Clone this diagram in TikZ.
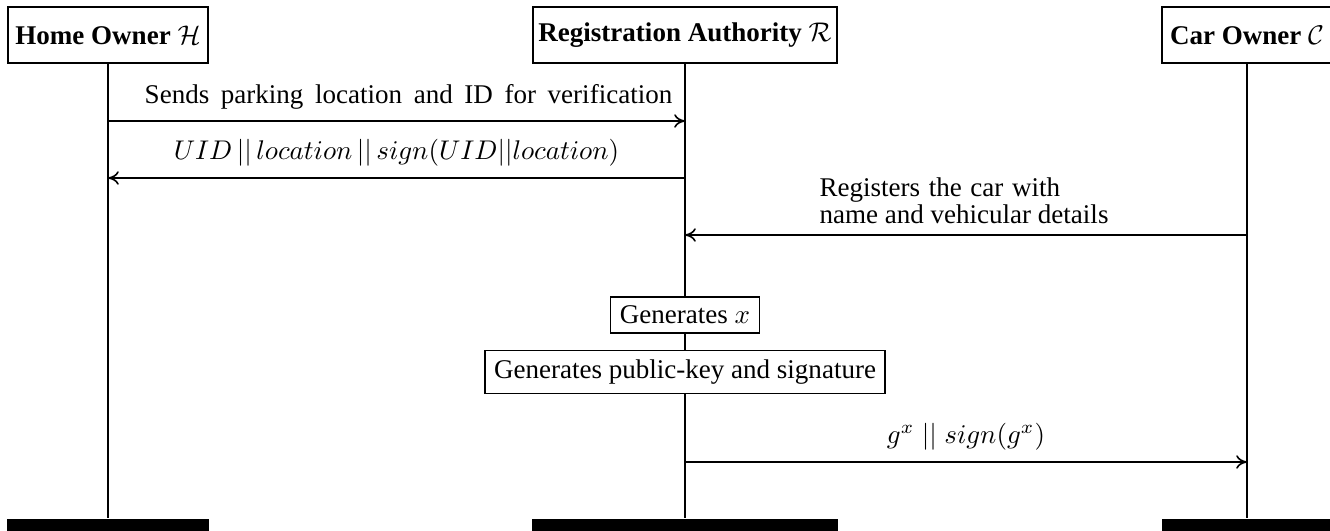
\documentclass[tikz,border=0pt]{standalone}
\usepackage{fontspec}
\setmainfont{Liberation Serif}
\usetikzlibrary{arrows.meta}
\begin{document}
\begin{tikzpicture}[x=0.37pt,y=-0.37pt,
  font=\fontsize{10}{12}\selectfont,
  actor/.style={draw, semithick, fill=white, minimum height=20.7pt, inner xsep=2pt, font=\fontsize{10}{12}\selectfont\bfseries},
  proc/.style={draw, semithick, fill=white, inner sep=3.4pt},
  life/.style={semithick},
  msg/.style={semithick, -{To[length=4pt,width=5pt]}},
  lbl/.style={above, inner sep=4pt},
  endbar/.style={fill=black, inner sep=0pt, minimum height=6pt, anchor=north}]
\useasboundingbox (0,0) rectangle (1330,531);
% actors
\node[actor, minimum width=74pt] (H) at (108,35) {Home Owner $\mathcal{H}$};
\node[actor, minimum width=112.5pt] (R) at (685,35) {Registration Authority $\mathcal{R}$};
\node[actor, minimum width=62.9pt] (C) at (1247,35) {Car Owner $\mathcal{C}$};
% end bars
\node[endbar, minimum width=74.7pt] (He) at (108,518) {};
\node[endbar, minimum width=113.2pt] (Re) at (685,518) {};
\node[endbar, minimum width=62.9pt] (Ce) at (1247,518) {};
% lifelines
\draw[life] (H.south) -- (He.north);
\draw[life] (R.south) -- (Re.north);
\draw[life] (C.south) -- (Ce.north);
% processing boxes
\node[proc] (gx) at (685,315) {Generates $x$};
\node[proc] (gk) at (685,372) {Generates public-key and signature};
% message points
\coordinate (h1) at (108,121);
\coordinate (r1) at (685,121);
\coordinate (h2) at (108,178);
\coordinate (r2) at (685,178);
\coordinate (r3) at (685,235);
\coordinate (c3) at (1247,235);
\coordinate (r4) at (685,462);
\coordinate (c4) at (1247,462);
% messages
\draw[msg] (h1) -- node[lbl, xshift=12*0.37pt] (l1) {\spaceskip=4.3pt\relax Sends parking location and ID for verification} (r1);
\draw[msg] (r2) -- node[lbl] (l2) {$UID\,||\,location\,||\,sign(UID||location)$} (h2);
\draw[msg] (c3) -- node[lbl, align=left, font=\fontsize{10}{9.7}\selectfont, xshift=-2*0.37pt] (l3) {\spaceskip=3.2pt\relax Registers the car with\\name and vehicular details} (r3);
\draw[msg] (r4) -- node[lbl] (l4) {$g^x\;||\;sign(g^x)$} (c4);
\end{tikzpicture}
\end{document}
